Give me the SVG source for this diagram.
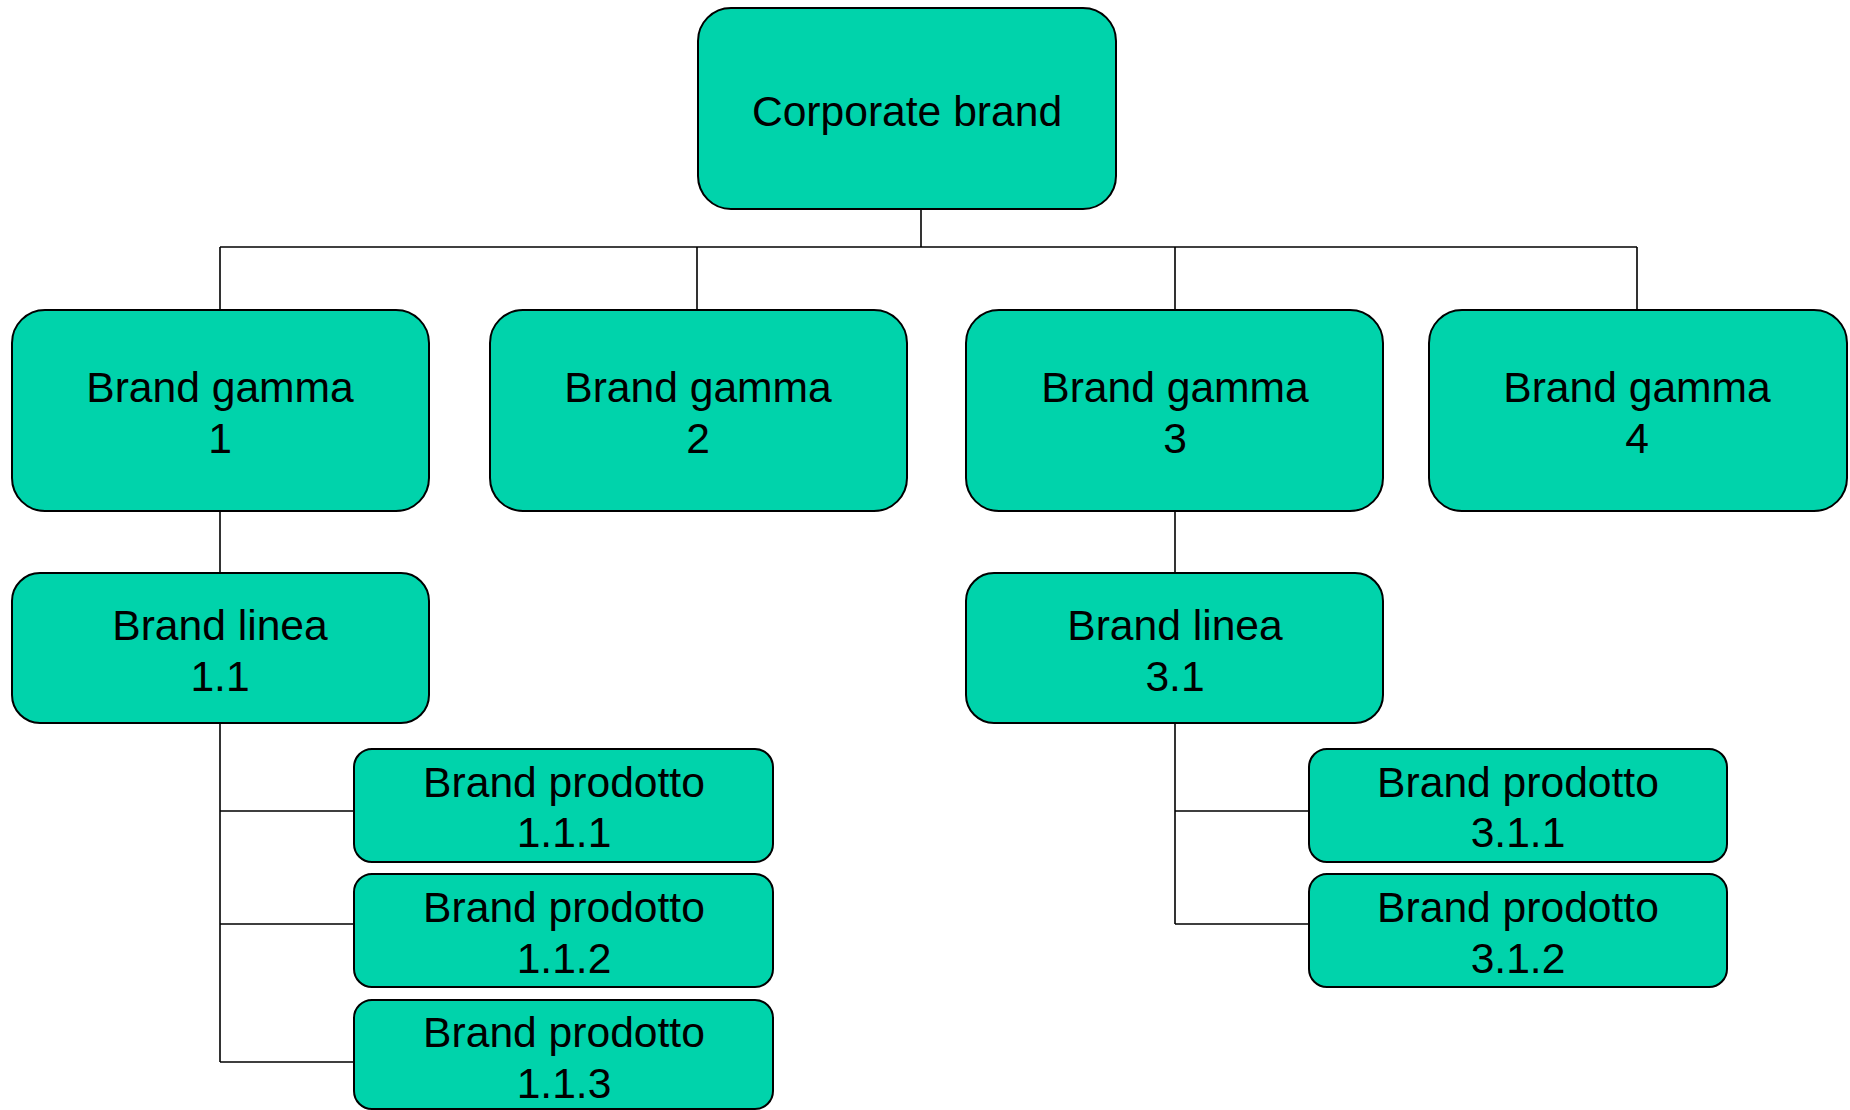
<svg xmlns="http://www.w3.org/2000/svg" width="1850" height="1110" viewBox="0 0 1850 1110">
  <style>
    .box { fill: #00D3AB; stroke: #000; stroke-width: 2; }
    .lbl { font-family: "Liberation Sans", Arial, sans-serif; font-size: 42.6px; fill: #000; text-anchor: middle; }
    .wire { fill: none; stroke: #000; stroke-width: 1.6; }
  </style>
  <rect width="1850" height="1110" fill="#fff"/>

  <!-- connectors -->
  <g id="connectors" class="wire">
    <path d="M921,209 V247"/>
    <path d="M220,247 H1637"/>
    <path d="M220,247 V310 M697,247 V310 M1175,247 V310 M1637,247 V310"/>
    <path d="M220,511 V573"/>
    <path d="M1175,511 V573"/>
    <path d="M220,723 V1062"/>
    <path d="M220,811 H354 M220,924 H354 M220,1062 H354"/>
    <path d="M1175,723 V924"/>
    <path d="M1175,811 H1309 M1175,924 H1309"/>
  </g>

  <!-- root -->
  <g id="corporate">
    <rect class="box" x="698" y="8" width="418" height="201" rx="33"/>
    <text class="lbl" x="907" y="126">Corporate brand</text>
  </g>

  <!-- range brands -->
  <g id="gamma1">
    <rect class="box" x="12" y="310" width="417" height="201" rx="33"/>
    <text class="lbl" x="220" y="402">Brand gamma</text>
    <text class="lbl" x="220" y="453">1</text>
  </g>
  <g id="gamma2">
    <rect class="box" x="490" y="310" width="417" height="201" rx="33"/>
    <text class="lbl" x="698" y="402">Brand gamma</text>
    <text class="lbl" x="698" y="453">2</text>
  </g>
  <g id="gamma3">
    <rect class="box" x="966" y="310" width="417" height="201" rx="33"/>
    <text class="lbl" x="1175" y="402">Brand gamma</text>
    <text class="lbl" x="1175" y="453">3</text>
  </g>
  <g id="gamma4">
    <rect class="box" x="1429" y="310" width="418" height="201" rx="33"/>
    <text class="lbl" x="1637" y="402">Brand gamma</text>
    <text class="lbl" x="1637" y="453">4</text>
  </g>

  <!-- line brands -->
  <g id="linea1_1">
    <rect class="box" x="12" y="573" width="417" height="150" rx="28"/>
    <text class="lbl" x="220" y="640">Brand linea</text>
    <text class="lbl" x="220" y="691">1.1</text>
  </g>
  <g id="linea3_1">
    <rect class="box" x="966" y="573" width="417" height="150" rx="28"/>
    <text class="lbl" x="1175" y="640">Brand linea</text>
    <text class="lbl" x="1175" y="691">3.1</text>
  </g>

  <!-- product brands -->
  <g id="prodotto1_1_1">
    <rect class="box" x="354" y="749" width="419" height="113" rx="18"/>
    <text class="lbl" x="564" y="797">Brand prodotto</text>
    <text class="lbl" x="564" y="847">1.1.1</text>
  </g>
  <g id="prodotto1_1_2">
    <rect class="box" x="354" y="874" width="419" height="113" rx="18"/>
    <text class="lbl" x="564" y="922">Brand prodotto</text>
    <text class="lbl" x="564" y="973">1.1.2</text>
  </g>
  <g id="prodotto1_1_3">
    <rect class="box" x="354" y="1000" width="419" height="109" rx="18"/>
    <text class="lbl" x="564" y="1047">Brand prodotto</text>
    <text class="lbl" x="564" y="1098">1.1.3</text>
  </g>
  <g id="prodotto3_1_1">
    <rect class="box" x="1309" y="749" width="418" height="113" rx="18"/>
    <text class="lbl" x="1518" y="797">Brand prodotto</text>
    <text class="lbl" x="1518" y="847">3.1.1</text>
  </g>
  <g id="prodotto3_1_2">
    <rect class="box" x="1309" y="874" width="418" height="113" rx="18"/>
    <text class="lbl" x="1518" y="922">Brand prodotto</text>
    <text class="lbl" x="1518" y="973">3.1.2</text>
  </g>
</svg>
